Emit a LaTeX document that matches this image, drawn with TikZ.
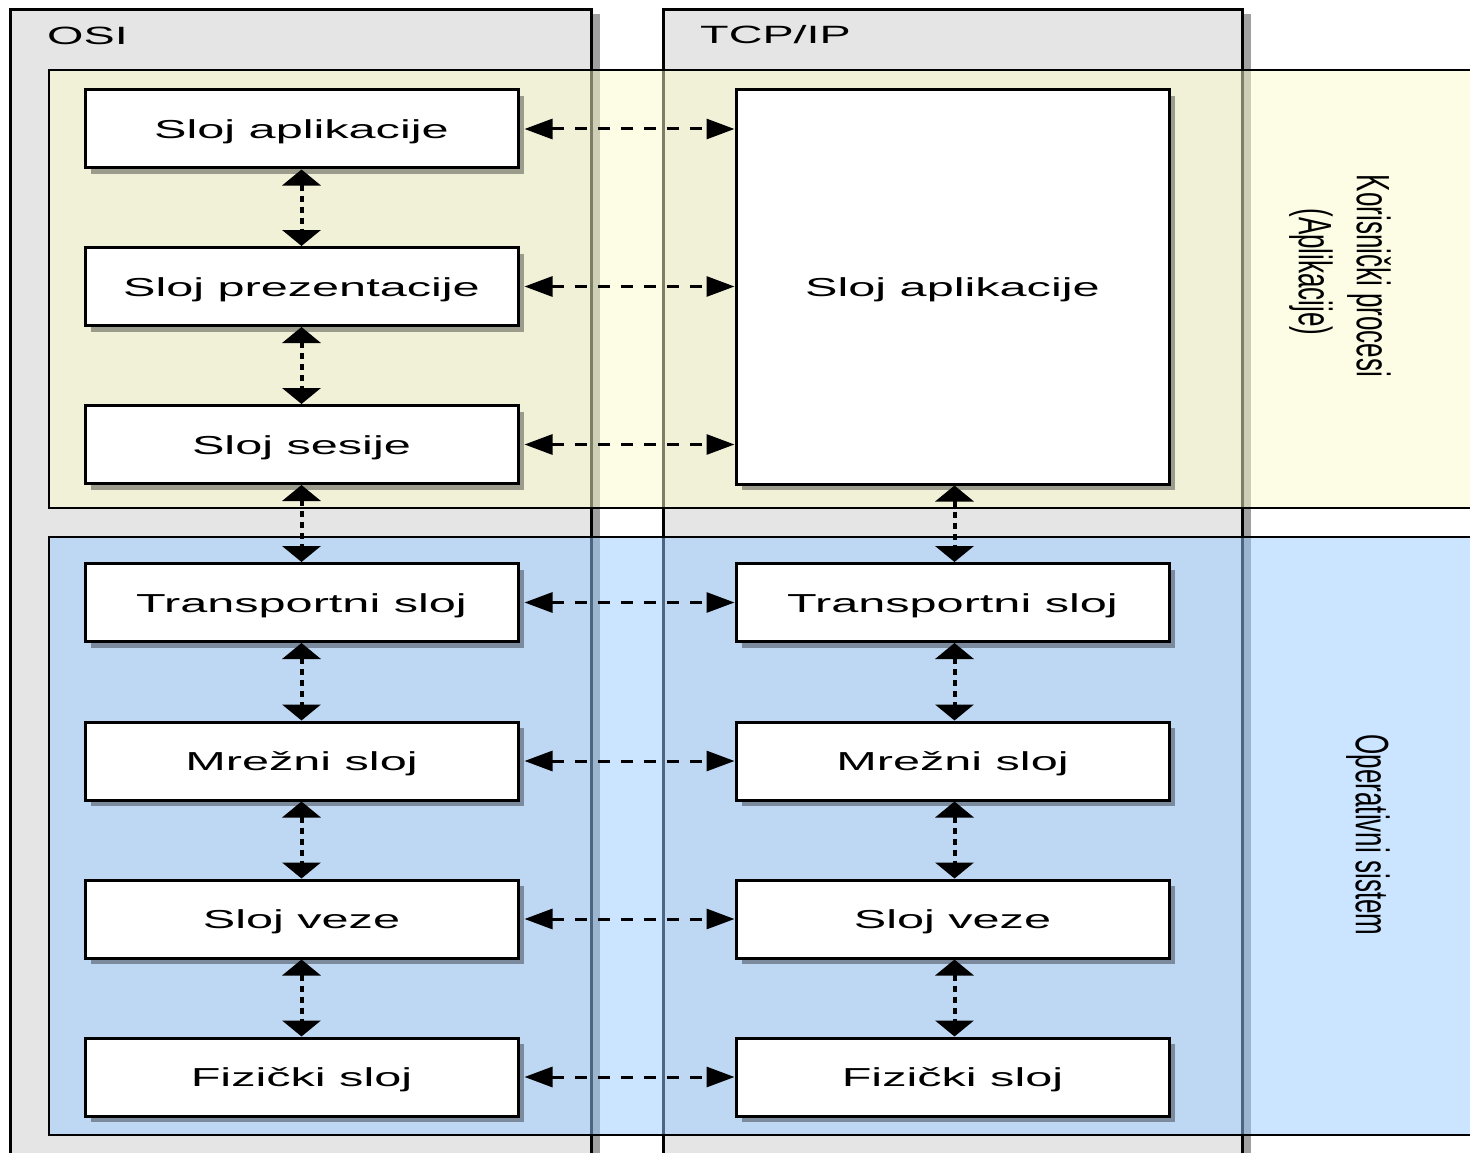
\documentclass[tikz,border=0pt]{standalone}
\usepackage{fontspec}
\setmainfont{Liberation Sans}
\newfontfamily\widefont[FakeStretch=1.87]{Liberation Sans}
\usetikzlibrary{arrows.meta,shadows}

\definecolor{colgrey}{HTML}{E5E5E5}
\definecolor{colshade}{HTML}{A0A0A0}
\definecolor{bandyellow}{HTML}{FDFDCD}
\definecolor{bandblue}{HTML}{99CBFF}

\tikzset{
  column/.style={draw=black, line width=3pt, fill=colgrey},
  band/.style={draw=black, line width=2.5pt, fill opacity=0.5},
  layer/.style={draw=black, line width=3pt, fill=white, inner sep=0pt,
    minimum width=433pt, minimum height=78pt,
    text height=19pt, text depth=0pt,
    font=\widefont\fontsize{26}{30}\selectfont,
    drop shadow={shadow xshift=6pt, shadow yshift=-6pt, fill=black, opacity=0.35}},
  coltitle/.style={inner sep=0pt, font=\widefont\fontsize{25}{30}\selectfont},
  sidelabel/.style={inner sep=0pt, rotate=-90, font=\fontsize{26}{30}\selectfont},
  harrow/.style={line width=3pt, dash pattern=on 12pt off 11pt,
    {Triangle[length=28pt,width=20pt]}-{Triangle[length=28pt,width=20pt]}},
  varrow/.style={line width=4pt, dash pattern=on 6pt off 5pt,
    {Triangle[length=16pt,width=38pt]}-{Triangle[length=16pt,width=38pt]}}
}

\begin{document}
\begin{tikzpicture}[x=1pt,y=-1pt]
\useasboundingbox[fill=white] (0,0) rectangle (1470,1153);

% the two model columns with their shadows
\fill[colshade] (18,14) rectangle (600,1170);
\draw[column] (10,10) rectangle (591,1170);
\fill[colshade] (671,14) rectangle (1251,1170);
\draw[column] (663,10) rectangle (1242,1170);

\node[coltitle, anchor=base west] (osi) at (47,45) {OSI};
\node[coltitle, anchor=base west] (tcpip) at (700,44) {TCP/IP};

% translucent bands: user processes and operating system
\draw[band, fill=bandyellow] (49,70) rectangle (1490,508);
\draw[band, fill=bandblue] (49,537) rectangle (1490,1135);

% OSI layers
\node[layer] (o1) at (301.5,129)   {Sloj aplikacije};
\node[layer] (o2) at (301.5,286.5) {Sloj prezentacije};
\node[layer] (o3) at (301.5,444.5) {Sloj sesije};
\node[layer] (o4) at (301.5,602.5) {Transportni sloj};
\node[layer] (o5) at (301.5,761)   {Mrežni sloj};
\node[layer] (o6) at (301.5,919)   {Sloj veze};
\node[layer] (o7) at (301.5,1077)  {Fizički sloj};

% TCP/IP layers
\node[layer, minimum height=394pt] (tapp) at (952.5,287) {Sloj aplikacije};
\node[layer] (t4) at (952.5,602.5) {Transportni sloj};
\node[layer] (t5) at (952.5,761)   {Mrežni sloj};
\node[layer] (t6) at (952.5,919)   {Sloj veze};
\node[layer] (t7) at (952.5,1077)  {Fizički sloj};

% peer correspondences
\draw[harrow] ([xshift=5pt]o1.east) -- (o1.east -| tapp.west);
\draw[harrow] ([xshift=5pt]o2.east) -- (o2.east -| tapp.west);
\draw[harrow] ([xshift=5pt]o3.east) -- (o3.east -| tapp.west);
\draw[harrow] ([xshift=5pt]o4.east) -- (t4.west);
\draw[harrow] ([xshift=5pt]o5.east) -- (t5.west);
\draw[harrow] ([xshift=5pt]o6.east) -- (t6.west);
\draw[harrow] ([xshift=5pt]o7.east) -- (t7.west);

% vertical links inside each stack
\draw[varrow] (o1.south) -- (o2.north);
\draw[varrow] (o2.south) -- (o3.north);
\draw[varrow] (o3.south) -- (o4.north);
\draw[varrow] (o4.south) -- (o5.north);
\draw[varrow] (o5.south) -- (o6.north);
\draw[varrow] (o6.south) -- (o7.north);
\draw[varrow] ([xshift=2pt]tapp.south) -- ([xshift=2pt]t4.north);
\draw[varrow] ([xshift=2pt]t4.south) -- ([xshift=2pt]t5.north);
\draw[varrow] ([xshift=2pt]t5.south) -- ([xshift=2pt]t6.north);
\draw[varrow] ([xshift=2pt]t6.south) -- ([xshift=2pt]t7.north);

% band labels
\node[sidelabel] (kp) at (1369,276) {\scalebox{1}[1.8]{Korisnički procesi}};
\node[sidelabel] (ap) at (1311,272) {\scalebox{1}[1.8]{(Aplikacije)}};
\node[sidelabel] (os) at (1368,835) {\scalebox{1}[1.8]{Operativni sistem}};
\end{tikzpicture}
\end{document}
